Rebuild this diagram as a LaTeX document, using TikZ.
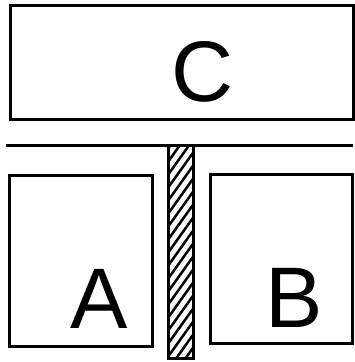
\documentclass[tikz,border=0pt]{standalone}
\usepackage{fontspec}
\setmainfont{Liberation Sans}
\begin{document}
\begin{tikzpicture}[x=1pt,y=-1pt,
  box/.style={draw,line width=3pt,inner sep=0pt,anchor=north west},
  lbl/.style={font=\fontsize{86}{86}\selectfont,inner sep=0pt,anchor=base}]
\useasboundingbox (0,0) rectangle (355,362);
% boxes
\draw[line width=3pt] (10,5) rectangle (353,119);
\node[lbl] (C) at (203,101.5) {C};
\draw[line width=3pt] (9,175) rectangle (152,346);
\node[lbl] (A) at (99,328) {A};
\draw[line width=3pt] (210,174) rectangle (352,343);
\node[lbl] (B) at (294,327) {B};
% horizontal line
\coordinate (hl) at (6,145);
\coordinate (hr) at (353,145);
\draw[line width=3pt] (hl) -- (hr);
% hatched bar
\begin{scope}
\clip (168,145) rectangle (193,358);
\foreach \k in {0,...,22} {
  \draw[line width=2.5pt] (160,160+\k*13) -- (200,104+\k*13);
}
\end{scope}
\draw[line width=3pt] (168,145) rectangle (193,358);
\end{tikzpicture}
\end{document}
